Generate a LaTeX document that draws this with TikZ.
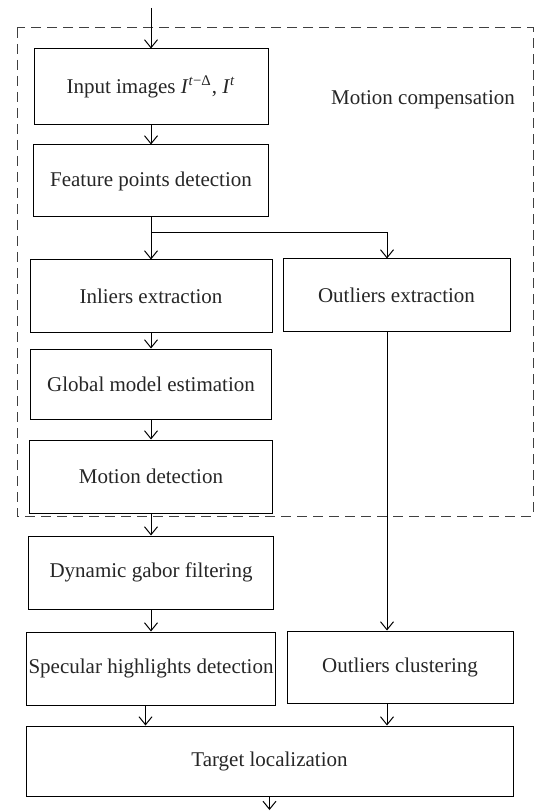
\documentclass[tikz,border=0pt]{standalone}
\usepackage{fontspec}
\setmainfont{Liberation Serif}
\usepackage{tikz}
\usetikzlibrary{arrows.meta,positioning}

\begin{document}
\begin{tikzpicture}[->, >={Straight Barb[length=4pt,width=6.5pt]}, line width=0.5pt, node distance=48pt,
		box/.style={draw, rectangle, minimum height=36.5pt, inner sep=1pt, text=black!85, font=\fontsize{10.5pt}{12pt}\selectfont},
		note/.style={text=black!85, font=\fontsize{10.5pt}{12pt}\selectfont}]
	\useasboundingbox (0,0) rectangle (268pt,-406pt);
	% motion compensation block
	\draw[-, dash pattern=on 5pt off 3pt, black!75] (8.5pt,-14pt) rectangle (266.5pt,-258pt);

				\node[box, minimum width=117pt, minimum height=38pt] (INPUT) at (75.5pt,-43.5pt) {Input images \textit{I}\textsuperscript{\textit{t}−Δ}, \textit{I}\textsuperscript{\textit{t}}};
				\node[box, minimum width=117.5pt, minimum height=36pt] (FEAT) [below of=INPUT, node distance=47pt] {Feature points detection};
				\node[box, minimum width=121pt, minimum height=36pt] (INLIER) [below of=FEAT, node distance=57.5pt] {Inliers extraction};
				\node[box, minimum width=113.5pt, minimum height=36pt] (OUTLIER) [right of=INLIER, node distance=122.75pt, yshift=0.5pt] {Outliers extraction};
				\node[box, minimum width=120.5pt, minimum height=35pt] (GLOBAL) [below of=INLIER, node distance=44pt] {Global model estimation};
				\node[box, minimum width=121.5pt] (MOTION) [below of=GLOBAL, node distance=46.25pt] {Motion detection};
				\node[note] (MC) [right of=INPUT, node distance=136pt, yshift=-6.5pt] {Motion compensation};
				\node[box, minimum width=122.5pt] (GABOR) [below of=MOTION] {Dynamic gabor filtering};
				\node[box, minimum width=123.5pt] (SPEC) [below of=GABOR] {Specular highlights detection};
				\node[box, minimum width=113pt, minimum height=36pt] (CLUSTER) [right of=SPEC, node distance=124.5pt, yshift=0.75pt] {Outliers clustering};
				\node[box, minimum width=243.5pt, minimum height=35pt] (TARGET) [below of=SPEC, node distance=46.25pt, xshift=59.25pt] {Target localization};

				\coordinate (SRC) at ([yshift=39.5pt]INPUT.center);
				\coordinate (SNK) at ([yshift=-24.5pt]TARGET.center);
				\coordinate (BR) at ([xshift=-4.75pt]OUTLIER.north);

				\path	(SRC)		edge	(INPUT)
						(INPUT)		edge	(FEAT)
						(FEAT)		edge	(INLIER)
						(INLIER)	edge	(GLOBAL)
						(GLOBAL)	edge	(MOTION)
						(MOTION)	edge	(GABOR)
						(GABOR)		edge	(SPEC)
						(TARGET)	edge	(SNK);

				\draw	(FEAT.south) -- ++(0,-7.5pt) -| (BR);
				\draw	(BR |- OUTLIER.south) -- (BR |- CLUSTER.north);
				\draw	(BR |- CLUSTER.south) -- (BR |- TARGET.north);
				\draw	([xshift=-2.75pt]SPEC.south) -- ([xshift=-2.75pt]SPEC.south |- TARGET.north);
\end{tikzpicture}
\end{document}
